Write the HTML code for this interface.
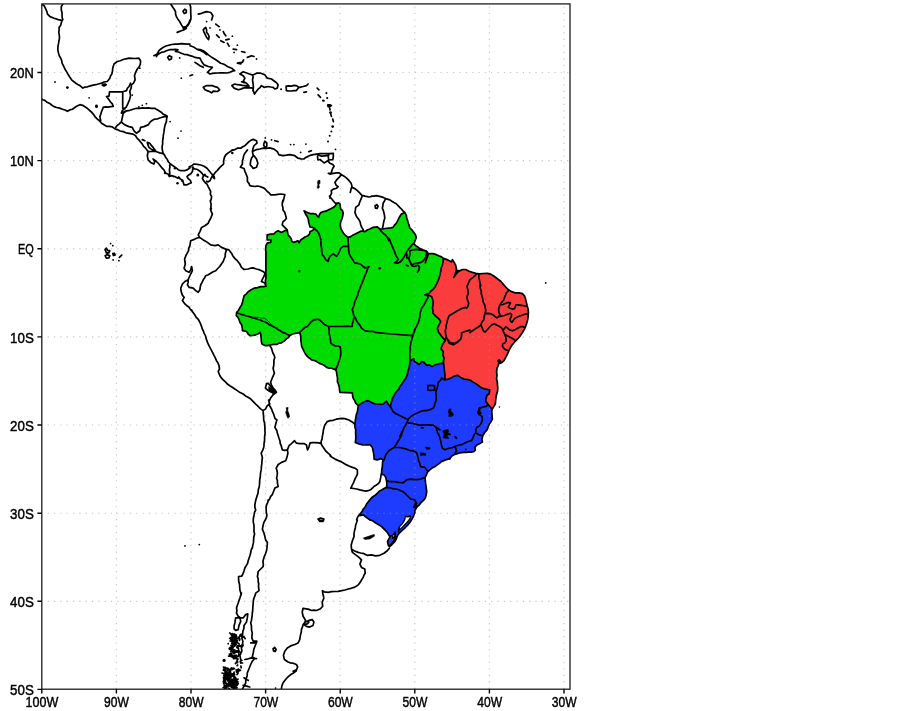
<!DOCTYPE html>
<html><head><meta charset="utf-8"><title>Brazil regions map</title>
<style>html,body{margin:0;padding:0;background:#fff}svg{display:block}text{font-family:"Liberation Sans",sans-serif;fill:#000;stroke:#000;stroke-width:0.45px}</style></head><body>
<svg width="902" height="711" viewBox="0 0 902 711">
<rect width="902" height="711" fill="#fff"/>
<defs><clipPath id="c"><rect x="41.8" y="3.9" width="528.2" height="685.3"/></clipPath></defs>
<g clip-path="url(#c)">
<path d="M265.6,285.6 265.9,278.2 265.9,266.5 265.9,254.9 265.6,249.9 265.9,245.7 267.2,243.2 270.6,242.4 271.1,239.9 267.2,239.9 267.2,234.9 273.9,233.8 278.1,230.8 281.4,232.4 284.7,230.8 287.2,229.9 287.2,229.9 288.0,234.9 291.4,239.1 291.7,241.2 293.7,242.4 295.8,241.6 297.9,240.7 299.1,242.8 300.4,240.3 302.5,238.7 305.0,237.0 307.9,235.7 309.5,234.1 310.0,231.6 312.0,230.8 314.5,229.1 314.9,228.3 312.0,227.4 310.0,227.0 309.5,224.9 308.7,222.4 308.3,219.1 307.0,216.2 305.4,213.7 304.1,210.8 306.2,212.0 308.3,212.9 310.8,213.7 313.7,213.7 315.8,214.1 317.4,216.2 318.7,217.0 319.5,214.5 320.8,212.5 323.3,211.6 325.8,211.2 328.2,210.0 330.7,208.7 333.2,207.5 335.3,205.8 336.6,203.7 338.6,202.9 338.6,202.9 339.9,203.7 340.3,206.6 340.7,209.1 342.4,210.4 343.2,212.9 342.8,215.8 342.0,218.7 340.7,221.6 340.3,224.9 340.7,227.8 342.0,230.8 343.6,233.2 345.7,235.7 348.2,237.4 350.7,236.6 353.2,234.9 355.7,233.7 358.2,232.4 360.7,231.2 363.2,231.2 365.0,231.6 369.8,229.0 373.1,227.3 377.3,226.8 379.8,229.0 382.3,229.0 388.1,228.2 393.1,227.3 396.4,223.2 398.9,218.2 401.4,214.0 404.8,212.4 404.8,212.4 406.4,215.7 407.7,220.7 407.9,222.0 409.1,225.3 409.9,228.2 412.0,229.9 413.7,232.4 415.4,234.5 416.2,237.4 415.4,239.9 414.5,242.0 414.1,244.0 415.8,245.7 417.8,246.9 419.9,248.6 422.8,249.8 425.7,250.7 427.4,251.9 428.2,254.0 429.9,253.6 432.8,253.6 435.7,254.4 438.6,255.7 441.5,256.9 444.0,258.6 443.2,258.3 442.4,264.9 440.7,271.6 439.0,278.2 436.5,284.1 433.2,289.1 429.1,293.2 424.9,294.9 428.6,295.2 431.5,296.5 433.2,302.4 432.4,308.2 432.9,313.2 435.7,316.2 439.0,319.0 440.7,321.5 439.0,324.8 437.4,328.1 438.5,332.3 441.5,336.4 444.5,339.8 445.3,340.4 443.2,343.3 441.6,346.6 441.1,349.1 443.2,351.6 442.8,354.9 444.1,358.3 443.6,363.3 443.6,363.3 441.6,363.3 439.1,363.7 436.6,364.5 434.1,365.3 432.0,366.6 429.5,364.9 427.0,365.3 425.4,364.1 423.7,362.0 421.6,361.6 420.4,363.3 419.1,364.5 416.6,362.8 414.1,361.2 413.7,358.7 411.6,359.9 410.0,361.2 410.0,361.2 409.6,364.9 408.7,369.1 407.5,374.1 405.8,378.2 403.3,381.6 401.2,384.9 397.3,390.7 394.0,395.7 391.5,401.5 390.6,407.3 390.6,407.3 388.1,404.0 386.5,401.2 383.1,404.0 378.2,404.0 373.2,403.2 368.2,400.7 363.2,402.3 358.2,405.7 358.2,405.7 355.7,403.2 353.2,398.2 352.4,392.9 339.9,392.4 339.1,386.5 337.4,381.6 336.9,374.9 335.8,369.9 331.6,368.2 326.6,367.4 321.6,364.1 316.6,361.6 311.6,359.9 307.5,356.6 304.2,351.6 301.7,346.6 300.8,340.0 300.0,333.3 299.0,332.8 296.5,333.1 292.4,334.0 289.9,335.6 286.5,338.9 281.5,342.8 276.6,344.4 269.9,345.1 264.9,345.6 261.9,343.9 261.2,338.1 260.3,332.3 255.8,334.8 249.9,335.6 246.6,331.5 242.5,330.6 241.6,324.8 239.1,319.8 236.3,315.7 236.6,312.3 239.6,308.2 241.6,304.9 243.0,299.9 244.1,295.7 248.3,291.6 254.1,288.2 260.8,286.6 266.2,286.2Z" fill="#00dc00"/>
<path d="M444.0,258.6 446.5,259.4 449.4,260.7 451.5,261.9 452.5,259.6 453.7,261.6 455.4,264.6 456.2,267.5 456.6,270.4 460.0,270.8 462.4,269.5 465.8,269.5 469.1,271.2 472.4,272.4 475.8,273.3 479.1,273.9 483.2,273.5 487.4,273.3 490.7,274.1 494.1,276.2 497.4,278.7 500.7,281.2 503.2,284.1 505.7,287.0 508.2,289.5 511.5,291.6 515.0,292.8 519.1,292.9 522.4,293.7 524.5,295.8 525.6,299.1 526.4,302.4 527.2,305.8 528.1,309.1 528.4,312.4 528.2,315.8 527.8,319.1 527.0,322.4 525.7,326.1 524.5,329.1 522.8,332.0 522.0,333.3 519.9,336.2 517.8,338.7 515.7,340.8 513.6,343.3 511.6,345.8 509.9,348.7 508.7,351.2 507.4,354.1 505.8,357.4 504.1,360.3 502.0,362.4 500.4,363.2 498.7,363.6 498.3,365.7 497.0,368.2 496.6,371.6 497.0,374.9 496.6,379.0 497.3,381.6 497.8,388.2 496.4,394.9 496.5,395.0 495.7,400.0 495.3,404.1 493.2,407.5 492.0,409.3 492.0,409.3 489.9,406.6 487.8,404.1 485.7,401.2 486.1,398.3 487.0,395.0 489.0,394.1 489.8,389.9 485.6,389.1 480.6,387.4 476.5,384.1 472.3,381.6 468.2,379.6 464.0,379.1 460.7,377.4 457.4,375.3 453.2,376.6 448.2,379.1 444.9,379.9 444.9,376.6 444.5,371.6 444.1,367.4 443.6,363.3 443.6,363.3 444.1,358.3 442.8,354.9 443.2,351.6 441.1,349.1 441.6,346.6 443.2,343.3 445.3,340.4 444.5,339.8 441.5,336.4 438.5,332.3 437.4,328.1 439.0,324.8 440.7,321.5 439.0,319.0 435.7,316.2 432.9,313.2 432.4,308.2 433.2,302.4 431.5,296.5 428.6,295.2 424.9,294.9 429.1,293.2 433.2,289.1 436.5,284.1 439.0,278.2 440.7,271.6 442.4,264.9 443.2,258.3Z" fill="#fa3c3c"/>
<path d="M492.0,409.3 492.0,414.1 492.4,419.1 491.1,421.6 489.5,423.7 488.2,427.0 487.0,429.9 484.5,432.8 482.8,435.7 482.0,439.1 482.4,442.0 479.9,443.6 476.6,445.3 474.9,447.4 475.3,449.9 474.1,451.5 469.1,452.0 464.1,452.4 460.0,452.8 456.6,454.0 451.6,456.4 449.7,458.6 445.6,459.9 441.4,461.6 437.3,464.9 433.1,467.4 429.8,469.9 427.3,472.4 425.1,477.4 425.6,483.2 426.4,489.0 426.1,494.9 424.0,499.9 420.6,503.2 417.3,506.5 414.8,510.6 414.9,512.5 413.7,515.8 412.0,519.1 409.9,522.5 407.4,525.4 404.5,528.3 401.6,530.8 399.1,533.3 397.4,535.8 396.2,539.1 394.5,542.0 392.0,544.5 389.6,546.6 389.6,546.6 388.3,545.3 387.5,541.6 388.7,539.1 391.2,535.8 389.6,536.2 388.3,534.1 386.6,531.6 384.1,529.1 381.6,526.6 378.3,524.5 375.0,522.5 367.4,518.1 363.3,514.8 358.6,515.6 358.6,515.6 360.8,513.1 363.3,509.0 366.6,504.0 369.9,499.9 373.2,496.5 377.4,493.2 381.6,489.9 386.5,487.4 386.5,487.4 386.9,484.1 386.5,480.7 385.7,477.4 384.1,474.9 381.2,474.1 381.2,474.1 381.6,472.4 382.4,465.8 383.2,459.9 383.2,459.9 380.7,458.6 377.4,459.9 374.1,459.1 373.6,453.3 372.4,447.5 369.9,444.6 365.8,445.0 359.9,444.1 355.3,442.5 355.8,436.6 355.7,429.8 354.9,424.0 355.7,418.1 357.4,411.5 358.2,405.7 358.2,405.7 363.2,402.3 368.2,400.7 373.2,403.2 378.2,404.0 383.1,404.0 386.5,401.2 388.1,404.0 390.6,407.3 390.6,407.3 391.5,401.5 394.0,395.7 397.3,390.7 401.2,384.9 403.3,381.6 405.8,378.2 407.5,374.1 408.7,369.1 409.6,364.9 410.0,361.2 410.0,361.2 411.6,359.9 413.7,358.7 414.1,361.2 416.6,362.8 419.1,364.5 420.4,363.3 421.6,361.6 423.7,362.0 425.4,364.1 427.0,365.3 429.5,364.9 432.0,366.6 434.1,365.3 436.6,364.5 439.1,363.7 441.6,363.3 443.6,363.3 443.6,363.3 444.1,367.4 444.5,371.6 444.9,376.6 444.9,379.9 448.2,379.1 453.2,376.6 457.4,375.3 460.7,377.4 464.0,379.1 468.2,379.6 472.3,381.6 476.5,384.1 480.6,387.4 485.6,389.1 489.8,389.9 489.0,394.1 487.0,395.0 486.1,398.3 485.7,401.2 487.8,404.1 489.9,406.6 492.0,409.3Z" fill="#1e3cff"/>
<path d="M405.4,515.8 407.0,516.9 409.1,516.5 410.3,515.6 410.3,517.9 408.7,520.4 407.0,522.5 404.9,524.5 402.9,526.6 400.8,528.7 399.3,529.8 398.9,528.3 399.9,526.2 402.0,524.1 403.7,521.6 404.9,519.1Z" fill="#fff" stroke="#000" stroke-width="1.3" stroke-linejoin="round"/>
<path d="M392.9,534.9 394.5,533.3 395.0,535.8 393.7,537.8 392.5,538.4Z" fill="#fff" stroke="#000" stroke-width="1.3" stroke-linejoin="round"/>
<path d="M47.65,72.5H570.0M47.65,160.6H570.0M47.65,248.8H570.0M47.65,336.9H570.0M47.65,425.0H570.0M47.65,513.2H570.0M47.65,601.3H570.0" fill="none" stroke="#a0a0a0" stroke-opacity="0.6" stroke-width="1.15" stroke-dasharray="1.2 5.135"/>
<path d="M116.4,6.4V689.2M191.0,6.4V689.2M265.6,6.4V689.2M340.2,6.4V689.2M414.8,6.4V689.2M489.4,6.4V689.2M564.0,6.4V689.2" fill="none" stroke="#a0a0a0" stroke-opacity="0.6" stroke-width="1.15" stroke-dasharray="1.2 5.29"/>
<path d="M265.6,285.6 265.6,283.1 265.4,280.6 265.9,278.2 265.9,266.5 265.9,254.9 266.0,252.4 265.6,249.9 265.9,245.7 267.2,243.2 270.6,242.4 271.1,239.9 267.2,239.9 267.1,237.4 267.2,234.9 270.5,234.2 273.9,233.8 275.8,232.0 278.1,230.8 281.4,232.4 284.7,230.8 287.2,229.9M287.2,229.9 287.6,232.4 288.0,234.9 289.9,236.8 291.4,239.1 291.7,241.2 293.7,242.4 295.8,241.6 297.9,240.7 299.1,242.8 300.4,240.3 302.5,238.7 305.0,237.0 307.9,235.7 309.5,234.1 310.0,231.6 312.0,230.8 314.5,229.1 314.9,228.3 312.0,227.4 310.0,227.0 309.5,224.9 308.7,222.4 308.3,219.1 307.0,216.2 305.4,213.7 304.1,210.8 306.2,212.0 308.3,212.9 310.8,213.7 313.7,213.7 315.8,214.1 317.4,216.2 318.7,217.0 319.5,214.5 320.8,212.5 323.3,211.6 325.8,211.2 328.2,210.0 330.7,208.7 333.2,207.5 335.3,205.8 336.6,203.7 338.6,202.9M338.6,202.9 339.9,203.7 340.3,206.6 340.7,209.1 342.4,210.4 343.2,212.9 342.8,215.8 342.0,218.7 340.7,221.6 340.3,224.9 340.7,227.8 342.0,230.8 343.6,233.2 345.7,235.7 348.2,237.4 350.7,236.6 353.2,234.9 355.7,233.7 358.2,232.4 360.7,231.2 363.2,231.2 365.0,231.6 367.2,230.0 369.8,229.0 373.1,227.3 377.3,226.8 379.8,229.0 382.3,229.0 385.2,228.5 388.1,228.2 390.6,227.8 393.1,227.3 394.5,225.1 396.4,223.2 397.7,220.7 398.9,218.2 400.1,216.0 401.4,214.0 404.8,212.4M404.8,212.4 406.4,215.7 406.7,218.3 407.7,220.7 407.9,222.0 409.1,225.3 409.9,228.2 412.0,229.9 413.7,232.4 415.4,234.5 416.2,237.4 415.4,239.9 414.5,242.0 414.1,244.0 415.8,245.7 417.8,246.9 419.9,248.6 422.8,249.8 425.7,250.7 427.4,251.9 428.2,254.0 429.9,253.6 432.8,253.6 435.7,254.4 438.6,255.7 441.5,256.9 444.0,258.6M443.2,258.3 443.1,261.7 442.4,264.9 441.1,268.2 440.7,271.6 439.9,274.9 439.0,278.2 437.8,281.2 436.5,284.1 435.1,286.7 433.2,289.1 431.0,291.0 429.1,293.2 424.9,294.9 428.6,295.2 431.5,296.5 432.6,299.4 433.2,302.4 432.9,305.3 432.4,308.2 433.0,310.6 432.9,313.2 435.7,316.2 439.0,319.0 440.7,321.5 439.0,324.8 437.4,328.1 438.5,332.3 440.1,334.3 441.5,336.4 444.5,339.8 445.3,340.4 443.2,343.3 441.6,346.6 441.1,349.1 443.2,351.6 442.8,354.9 444.1,358.3 443.4,360.7 443.6,363.3M443.6,363.3 441.6,363.3 439.1,363.7 436.6,364.5 434.1,365.3 432.0,366.6 429.5,364.9 427.0,365.3 425.4,364.1 423.7,362.0 421.6,361.6 420.4,363.3 419.1,364.5 416.6,362.8 414.1,361.2 413.7,358.7 411.6,359.9 410.0,361.2M410.0,361.2 409.6,364.9 408.7,369.1 407.7,371.5 407.5,374.1 405.8,378.2 403.3,381.6 401.2,384.9 399.7,386.7 399.0,389.0 397.3,390.7 395.3,393.0 394.0,395.7 392.4,398.5 391.5,401.5 390.8,404.4 390.6,407.3M390.6,407.3 388.1,404.0 386.5,401.2 383.1,404.0 380.7,404.3 378.2,404.0 375.6,403.9 373.2,403.2 370.6,402.0 368.2,400.7 365.6,401.2 363.2,402.3 360.7,403.9 358.2,405.7M358.2,405.7 355.7,403.2 354.7,400.6 353.2,398.2 352.6,395.6 352.4,392.9 339.9,392.4 339.5,389.4 339.1,386.5 338.4,384.0 337.4,381.6 337.5,378.2 336.9,374.9 336.6,372.3 335.8,369.9 331.6,368.2 329.1,368.1 326.6,367.4 324.3,365.5 321.6,364.1 319.0,363.1 316.6,361.6 314.2,360.5 311.6,359.9 309.6,358.2 307.5,356.6 305.6,354.3 304.2,351.6 303.0,349.1 301.7,346.6 301.3,343.3 300.8,340.0 300.8,336.6 300.0,333.3 299.0,332.8 296.5,333.1 292.4,334.0 289.9,335.6 288.5,337.6 286.5,338.9 284.2,341.1 281.5,342.8 278.9,343.2 276.6,344.4 273.2,344.5 269.9,345.1 267.4,345.7 264.9,345.6 261.9,343.9 261.3,341.1 261.2,338.1 260.8,335.2 260.3,332.3 258.2,333.8 255.8,334.8 252.9,335.4 249.9,335.6 248.0,333.8 246.6,331.5 242.5,330.6 242.2,327.7 241.6,324.8 240.0,322.5 239.1,319.8 238.1,317.5 236.3,315.7 236.6,312.3 238.4,310.5 239.6,308.2 241.6,304.9 242.5,302.4 243.0,299.9 244.1,295.7 246.4,293.8 248.3,291.6 251.1,289.8 254.1,288.2 257.5,287.6 260.8,286.6 263.5,286.6 266.2,286.2M444.0,258.6 446.5,259.4 449.4,260.7 451.5,261.9 452.5,259.6 453.7,261.6 455.4,264.6 456.2,267.5 456.6,270.4 460.0,270.8 462.4,269.5 465.8,269.5 469.1,271.2 472.4,272.4 475.8,273.3 479.1,273.9 483.2,273.5 487.4,273.3 490.7,274.1 494.1,276.2 497.4,278.7 500.7,281.2 503.2,284.1 505.7,287.0 508.2,289.5 511.5,291.6 515.0,292.8 519.1,292.9 522.4,293.7 524.5,295.8 525.6,299.1 526.4,302.4 527.2,305.8 528.1,309.1 528.4,312.4 528.2,315.8 527.8,319.1 527.0,322.4 525.7,326.1 524.5,329.1 522.8,332.0 522.0,333.3 519.9,336.2 517.8,338.7 515.7,340.8 513.6,343.3 511.6,345.8 509.9,348.7 508.7,351.2 507.4,354.1 505.8,357.4 504.1,360.3 502.0,362.4 500.4,363.2 498.7,363.6 498.3,365.7 497.0,368.2 496.6,371.6 497.0,374.9 496.6,379.0 497.3,381.6 497.5,384.9 497.8,388.2 497.5,391.6 496.4,394.9 496.5,395.0 496.0,397.5 495.7,400.0 495.3,404.1 493.2,407.5 492.0,409.3M492.0,409.3 489.9,406.6 487.8,404.1 485.7,401.2 486.1,398.3 487.0,395.0 489.0,394.1 489.8,389.9 485.6,389.1 483.1,388.4 480.6,387.4 478.6,385.7 476.5,384.1 474.4,382.9 472.3,381.6 470.4,380.2 468.2,379.6 464.0,379.1 460.7,377.4 457.4,375.3 453.2,376.6 450.8,378.1 448.2,379.1 444.9,379.9 444.9,376.6 444.9,374.0 444.5,371.6 444.1,367.4 443.6,363.3M492.0,409.3 491.8,411.7 492.0,414.1 492.1,416.6 492.4,419.1 491.1,421.6 489.5,423.7 488.2,427.0 487.0,429.9 484.5,432.8 482.8,435.7 482.0,439.1 482.4,442.0 479.9,443.6 476.6,445.3 474.9,447.4 475.3,449.9 474.1,451.5 471.6,452.1 469.1,452.0 466.6,452.5 464.1,452.4 460.0,452.8 456.6,454.0 453.9,454.8 451.6,456.4 449.7,458.6 445.6,459.9 441.4,461.6 439.5,463.4 437.3,464.9 435.3,466.4 433.1,467.4 429.8,469.9 427.3,472.4 426.4,475.0 425.1,477.4 425.3,480.3 425.6,483.2 426.0,486.1 426.4,489.0 426.7,492.0 426.1,494.9 425.5,497.5 424.0,499.9 422.3,501.5 420.6,503.2 419.2,505.0 417.3,506.5 416.0,508.5 414.8,510.6 414.9,512.5 413.7,515.8 412.0,519.1 409.9,522.5 407.4,525.4 404.5,528.3 401.6,530.8 399.1,533.3 397.4,535.8 396.2,539.1 394.5,542.0 392.0,544.5 389.6,546.6M389.6,546.6 388.3,545.3 387.5,541.6 388.7,539.1 391.2,535.8 389.6,536.2 388.3,534.1 386.6,531.6 384.1,529.1 381.6,526.6 378.3,524.5 375.0,522.5 372.6,520.8 369.8,519.9 367.4,518.1 365.3,516.5 363.3,514.8 360.9,515.3 358.6,515.6M358.6,515.6 360.8,513.1 362.2,511.2 363.3,509.0 365.3,506.7 366.6,504.0 368.2,501.9 369.9,499.9 371.4,498.0 373.2,496.5 375.5,495.1 377.4,493.2 379.2,491.2 381.6,489.9 384.0,488.5 386.5,487.4M386.5,487.4 386.9,484.1 386.5,480.7 385.7,477.4 384.1,474.9 381.2,474.1M381.2,474.1 381.6,472.4 381.9,469.1 382.4,465.8 382.5,462.8 383.2,459.9M383.2,459.9 380.7,458.6 377.4,459.9 374.1,459.1 374.0,456.2 373.6,453.3 373.0,450.4 372.4,447.5 369.9,444.6 365.8,445.0 362.8,444.8 359.9,444.1 357.6,443.4 355.3,442.5 355.7,439.6 355.8,436.6 355.6,433.2 355.7,429.8 354.9,426.9 354.9,424.0 355.3,421.0 355.7,418.1 356.3,414.7 357.4,411.5 357.9,408.6 358.2,405.7M41.7,4.2 44.2,5.8 45.8,9.2 46.9,11.6 47.5,14.1 50.0,16.6 54.1,18.3 58.3,19.6 61.6,20.3M63.0,3.7 61.3,6.7 61.3,10.0 62.0,12.4 62.1,15.0 62.1,17.3 62.8,19.6 61.6,21.6 60.8,24.9 59.1,27.4 59.1,29.9 58.8,32.4 59.3,35.3 59.5,38.2 59.0,40.7 58.6,43.2 58.0,46.1 57.8,49.1 58.1,51.6 58.8,54.0 59.5,56.2 60.8,58.2 61.7,60.6 62.1,63.2 63.6,66.1 64.9,69.0 66.7,71.9 68.3,74.8 69.9,77.3 71.6,79.8 73.6,81.5 75.8,83.2 77.8,84.5 79.9,85.6 82.9,88.1 85.0,87.1 87.4,86.8 90.3,85.9 93.2,85.1 95.8,84.7 98.2,84.0 101.9,83.2 104.0,82.0 107.3,81.5 109.8,78.2 110.5,75.9 111.8,74.0 112.5,71.1 112.7,68.2 114.0,64.0 117.3,61.5 120.3,60.7 123.2,59.5 126.0,58.8 129.0,58.2 131.9,58.3 134.8,58.5 138.9,58.2 140.6,60.7 140.3,64.0 139.4,66.5 137.3,69.0 135.6,72.3 134.5,75.7 135.1,79.8 133.5,83.2 131.5,84.8 131.1,88.1 129.8,91.5 130.6,95.6 129.5,99.8 127.8,103.9 126.1,107.3 124.0,108.9 122.3,110.6 121.5,113.1M103.2,107.3 105.7,106.8 108.2,107.1 110.7,106.6 113.2,106.4 112.3,103.9 110.5,102.0 109.0,99.8 106.5,96.5 109.0,96.1 109.5,91.8 122.7,91.8 122.7,108.1 124.8,108.9M122.7,91.8 126.5,90.6 127.4,88.3 129.0,86.5 130.6,83.2M102.4,85.1 104.9,84.0 106.2,84.8 104.0,86.1 102.4,85.1M170.5,3.7 173.0,7.5 174.4,9.5 175.5,11.6 175.6,14.2 176.4,16.6 177.9,19.2 179.7,21.6 181.3,24.6 183.0,27.4 186.3,26.6 188.8,23.3 190.0,20.0M177.2,32.4 181.3,30.8 184.0,29.9 186.3,28.3M189.7,3.7 190.6,6.8 190.7,10.0 190.7,13.3 191.0,16.6 190.8,19.2 190.0,21.6 188.3,24.9 186.0,27.4 183.3,28.3M183.0,11.3 184.7,9.2 186.3,10.3 186.3,12.5 184.3,13.6 183.0,11.3M153.9,55.7 157.2,54.0 158.9,50.7 160.9,49.0 163.1,47.4 165.9,46.0 168.9,45.2 171.8,44.5 174.7,44.1 178.1,44.2 181.3,43.6 184.2,43.9 187.1,44.2 190.0,44.1M156.4,56.5 157.8,54.6 159.7,53.2 161.9,52.2 164.3,51.8 166.4,50.7 169.6,49.7 173.0,49.6 175.6,49.4 178.0,49.9 175.5,51.5 178.5,52.0 181.3,53.2 184.2,54.3 187.2,54.6 190.0,55.7M167.7,57.4 169.4,55.7 171.7,56.9 171.4,59.0 169.1,59.9 167.7,57.4M198.3,14.1 201.6,13.3 204.1,12.4 206.6,11.6 210.8,12.5 212.9,15.8 211.6,20.0M204.6,28.3 205.8,27.4 206.6,29.9 206.6,32.4 208.2,34.3 209.1,36.6 208.6,39.6 206.6,37.4 205.4,34.9 204.1,32.4 203.3,29.9 204.6,28.3M215.8,24.1 219.1,26.6M223.3,31.6 224.3,33.8 225.8,35.8M216.6,34.9 219.1,37.4M220.8,40.7 224.1,42.4M225.8,39.9 229.1,39.1M227.4,43.2 229.1,46.2M233.2,49.1 236.6,49.6M241.6,51.5 244.9,52.4M247.4,57.4 251.5,55.7 254.0,56.5M237.4,63.2 239.9,62.6 242.4,62.4 243.6,59.9 242.3,62.0 240.7,64.0 237.4,63.2M190.0,45.7 192.4,46.5 194.6,47.6 196.7,49.1 200.1,49.6 203.3,50.7 206.0,52.6 208.3,54.9 210.8,56.6 213.3,58.2 215.8,59.8 218.3,61.5 220.6,63.2 223.3,64.0 225.4,65.1 227.4,66.5 231.6,68.2 234.6,70.7 232.1,71.2 229.9,72.3 226.6,73.0 223.3,72.8 220.5,72.9 217.7,73.0 214.9,73.2 212.4,73.4 210.0,74.0 207.5,72.3 209.1,70.6 210.8,69.0 212.4,67.3 208.3,66.5 204.1,64.9 201.6,61.5 200.0,58.2 197.5,57.8 195.0,57.4 192.6,56.3 190.0,55.7M197.5,49.6 200.5,50.4 203.3,51.9 206.6,54.5M195.0,62.4 197.5,64.0 200.0,65.7 203.3,67.3M190.0,75.7 192.5,74.8M203.3,87.3 206.6,85.6 209.5,85.7 212.4,85.6 214.9,86.7 217.4,87.3 219.6,89.8 217.4,91.5 213.3,91.1 211.6,92.8 208.3,91.1 205.0,89.8 203.3,87.3M239.9,74.0 243.2,71.8 247.4,73.2 251.5,74.8 254.0,74.5 256.5,73.2 260.7,73.2 264.8,74.8 267.3,78.2 271.5,79.0 274.8,81.5 276.7,82.9 278.1,84.8 277.3,88.1 274.8,89.0 273.1,87.3 270.6,87.0 268.2,86.5 264.0,87.3 261.5,85.6 260.1,87.6 258.2,89.0 255.7,92.3 254.5,94.0 253.2,90.6 252.9,88.1 250.5,87.8 248.2,87.8 245.7,87.6 243.2,88.1 240.8,89.1 238.2,89.8 234.1,88.1 231.9,85.6 234.9,84.0 237.3,84.7 239.9,84.8 242.4,85.4 244.9,85.6 249.0,86.1 246.5,83.2 243.2,81.5 244.9,78.2 243.2,75.7 239.9,74.0M252.9,74.8 253.1,77.4 252.5,79.8 252.9,82.3 253.2,84.8 253.4,87.7 252.9,90.6M241.6,81.8 244.1,82.7M286.1,86.1 288.7,85.8 291.3,86.2 293.8,85.4 296.4,85.6 298.9,87.3 296.4,90.6 293.9,90.6 291.4,91.0 288.9,91.0 286.4,90.6 286.1,86.1M299.8,87.3 303.1,86.5 306.4,85.6 308.1,84.0M303.9,92.3 306.4,91.8M317.2,88.1 318.9,89.8M318.1,94.8 320.5,97.3M328.0,104.8 331.4,105.6M329.7,108.1 330.0,109.8M330.5,113.1 331.4,116.4M40.8,98.0 42.5,99.7 44.9,100.4 46.6,102.0 49.3,103.2 51.6,105.0 54.0,106.6 56.6,107.5 59.6,108.1 62.5,109.2 65.0,110.0 67.4,111.3 69.8,109.9 72.4,109.2 74.5,107.7 76.6,106.3 79.9,104.7 82.6,105.3 84.9,106.7 87.1,108.1 89.1,110.0 91.3,111.9 93.2,114.1 95.1,116.8 97.4,119.1 99.7,121.0 101.5,123.3 104.0,124.8 106.5,126.3 109.5,126.4 112.3,126.9 114.6,128.7 117.3,129.6 120.1,131.0 123.2,131.6 126.0,132.8 129.0,133.3 133.1,134.1 135.6,135.8 137.0,138.1 138.9,139.9 140.6,142.0 142.3,144.1 143.6,146.4 145.6,148.2 148.1,151.6 147.3,155.7 148.1,159.9 150.6,162.4 153.9,164.0 154.8,161.5 153.1,159.0 156.4,161.5 158.9,164.0 161.4,167.3 163.9,169.8 165.6,173.2 168.1,174.0 169.4,176.5 171.4,175.7 174.7,176.5 178.0,178.2M178.0,178.2 178.7,177.0 180.4,179.1 182.0,179.9 183.3,182.4 184.1,184.9 186.6,184.9 189.1,183.7 191.2,182.8 190.3,180.3 188.3,178.7 187.0,176.6 188.7,174.9 190.8,173.7 192.4,171.6 192.8,169.1 194.5,168.7 197.4,169.5 199.9,171.2 202.0,173.3 203.2,174.9 203.2,176.6 202.4,178.3 203.7,180.8 205.3,182.8 207.0,184.1 208.2,186.6 209.5,189.1 210.7,191.6 210.3,194.1 211.6,196.6 211.1,199.9 210.3,200.7 211.1,204.1 210.9,207.4 211.4,209.0M203.2,174.9 205.3,175.8 207.8,177.0M212.8,174.9 211.1,178.3 209.9,180.8 207.8,182.0 206.6,181.2M100.7,120.8 99.9,116.6 100.8,114.2 101.5,111.6 103.2,107.5M115.7,127.4 117.1,125.6 119.0,124.1 121.5,121.6 122.3,117.5 123.2,113.3 126.5,110.8M121.5,122.1 124.8,124.9 129.0,126.6 132.3,127.4 134.0,130.8 135.6,132.4M121.5,112.5 124.0,111.8 126.5,110.8 129.9,110.3 133.1,109.2 136.4,108.3 139.8,108.3 142.5,107.9 145.3,108.2 148.1,107.8 151.4,108.3 154.8,108.3 156.8,109.6 158.9,110.8 161.2,112.2 163.1,114.1 165.2,115.0 167.2,116.3M136.4,133.3 139.8,130.8 140.6,127.4 143.9,126.6 148.1,124.9 150.6,121.6 152.5,120.2 154.8,119.1 157.3,119.0 159.7,118.0 162.2,117.2 164.7,116.7 167.2,116.3M167.2,116.3 166.6,118.9 166.4,121.6 165.4,124.1 164.7,126.6 164.2,129.5 163.9,132.4 163.3,135.3 163.1,138.2 162.6,141.1 162.7,144.1 162.1,146.5 162.2,149.1 163.1,153.2 164.6,155.1 165.6,157.4 167.2,159.2 168.1,161.5 170.5,164.0 173.0,165.7 176.4,168.2 178.2,169.7 180.5,170.7 184.7,170.7 187.5,169.6 190.0,167.8M148.9,151.6 151.8,151.3 154.8,151.2 157.3,152.0 159.7,152.9 163.1,153.6M147.3,142.4 149.8,143.2 151.3,145.4 153.1,147.4 155.6,150.7 152.2,149.9 148.9,147.4 148.0,144.9 147.3,142.4M142.3,139.6 144.8,140.7M169.7,164.9 169.9,167.4 169.4,169.8 169.8,173.2 169.7,176.5M189.1,167.0 192.0,165.4 194.1,164.0 197.4,164.3 200.7,165.0 204.1,166.2 207.0,168.3 209.1,170.8 211.1,173.3 212.8,174.9 214.1,176.6 214.5,178.7 213.2,177.4 213.1,175.4 214.9,172.9 217.4,170.4 219.4,167.9 221.5,165.8 223.6,164.1 223.6,160.8 224.4,157.5 225.7,155.0 228.2,152.9 230.7,151.2 232.3,150.0M232.2,150.1 234.1,149.9 237.4,148.2 240.7,148.2 242.7,146.8 244.9,145.7 247.0,143.7 249.0,141.6 251.0,140.2 253.2,139.4 256.5,140.7 257.0,143.2 254.0,145.7 253.0,148.6 252.4,151.6 253.2,155.7M253.2,155.7 251.6,158.0 250.7,160.7 250.2,164.9 251.8,166.6 253.2,168.5 256.5,167.3 257.9,163.2 256.5,159.0 254.0,155.7M252.4,151.6 254.5,150.6 256.5,149.6 259.9,149.0 263.2,148.2 266.5,148.3 269.8,147.9 274.0,149.1 277.3,151.6 279.0,154.9 283.1,155.7 286.5,155.2 289.8,154.6 292.3,155.1 294.8,155.7 298.1,158.2 301.0,158.8 303.9,159.0 305.8,157.4 308.1,156.5M264.0,143.2 264.8,141.2 266.8,142.9 266.8,146.2 264.8,147.4 263.7,145.2 264.0,143.2M247.4,149.9 244.9,153.2 243.7,155.6 243.2,158.2 242.4,161.1 242.4,164.0 240.4,167.3 244.1,168.5 244.7,170.9 245.7,173.2 247.4,177.3 247.4,181.5 248.9,183.4 249.9,185.6 252.3,186.2 254.9,186.5 257.4,186.0 259.9,186.5 264.0,188.1 265.7,189.7 267.3,191.5 269.2,192.9 270.6,194.8 274.8,194.8 277.7,194.4 280.6,194.0 284.8,194.5 284.0,198.1 283.3,200.7 282.3,203.1M274.8,140.7 278.1,141.6M308.9,151.6 311.4,150.7M332.7,119.1 333.4,121.6M307.5,156.6 310.0,155.4 313.3,154.6 316.6,154.1 320.0,153.7 324.1,153.7 328.7,153.6 333.3,153.3 333.3,156.6 332.8,159.7 328.7,160.0 328.3,156.8 328.7,153.6M317.5,156.2 317.9,160.0 320.0,159.5 322.0,161.2 324.1,162.9 326.6,161.6 328.7,160.0M318.3,155.0 321.6,156.2 324.9,155.8 328.7,155.4M328.3,161.4 329.9,163.3 332.8,164.5 334.1,166.2 332.8,168.3 332.0,170.3 331.2,173.3 328.3,173.3 329.9,174.1 333.3,173.3 336.6,172.8 339.1,172.8 341.2,174.5 344.1,176.2 346.6,178.2 349.1,180.7 351.1,183.2 352.0,186.2 351.1,189.1 350.3,192.4M352.0,187.4 354.9,188.6 357.4,190.7 359.9,193.2 361.9,195.3 364.9,196.1 369.0,197.0 371.5,196.5M371.5,196.2 374.0,196.2 376.5,195.7 380.6,196.6 383.2,197.4 385.6,198.6 389.8,199.9 391.8,201.2 393.9,202.4 396.3,203.7 398.1,205.7 399.7,207.4 401.4,209.0 402.9,210.9 404.8,212.4M341.2,174.9 339.1,177.4 336.6,179.9 334.9,182.4 336.2,185.3 338.2,186.6 336.6,188.2 333.3,189.1 331.2,190.7 331.6,193.2 330.4,195.7 329.9,198.2M329.5,196.2 331.2,198.3 333.2,200.8 335.3,203.3 338.6,202.9M362.3,195.7 360.7,199.9 359.6,202.3 359.0,204.9 355.7,207.4 355.4,209.9 354.9,212.4 356.5,216.5 359.0,219.8 360.2,222.2 360.7,224.8 361.8,227.4 363.2,229.8 364.0,231.5M385.6,198.6 384.5,201.0 383.1,203.2 382.9,205.7 382.3,208.2 383.4,210.6 384.0,213.2 384.5,215.7 384.8,218.2 384.0,220.6 383.5,223.2 383.0,226.1 382.3,229.0M375.1,205.7 376.8,204.6 378.1,206.2 377.1,208.5 375.5,208.2 375.1,205.7M210.4,208.7 211.2,211.4 212.4,214.1 210.7,218.3 209.3,220.7 208.2,223.3 204.9,225.8 201.6,227.4 199.9,231.6 198.2,234.9 199.6,237.4 197.1,238.0 194.9,239.1 190.7,240.7 190.3,243.2 189.9,245.7 188.8,248.1 188.6,250.7 187.4,252.8 186.2,254.9 184.6,259.0 184.9,261.5 185.3,264.0 184.1,268.2 185.8,270.7 189.1,272.3 190.7,269.9 191.6,266.5 192.4,270.7 190.7,274.0 189.1,277.3 188.2,279.8 184.9,281.5 182.4,284.0 180.8,288.1 181.0,290.7 181.6,293.1 182.5,295.4 184.1,297.3 182.4,300.6 184.9,303.9 186.9,305.7 189.1,307.3 190.5,309.6 192.4,311.4M188.2,279.8 188.1,282.4 187.4,284.8 189.1,287.3 193.2,288.1 195.7,290.6 198.2,292.3 199.9,289.8 200.2,287.3 200.7,284.8 202.1,282.4 203.2,279.8 204.6,277.9 205.7,275.7 208.3,274.7 210.7,273.2 213.1,271.7 215.7,270.7 217.7,268.5 219.8,266.5 221.4,264.0 223.2,261.5 224.1,259.0 225.2,256.5 225.3,253.6 226.2,250.7 225.7,249.1M199.6,237.4 203.2,239.9 205.3,241.1 207.4,242.4 210.7,244.9 214.9,245.7 218.2,244.9 221.5,247.4 225.7,249.1M225.7,249.1 229.0,249.9 231.5,253.2 232.6,255.4 234.0,257.4 235.5,259.2 237.3,260.7 239.8,264.0 241.5,267.4 244.0,269.5 248.1,269.0 250.6,268.2 253.1,267.9 256.4,269.0 259.8,269.9 263.1,271.5 265.1,273.2 263.9,276.5 262.6,278.9 261.4,281.5 264.8,283.1 265.6,285.6M283.0,200.0 282.4,202.5 282.2,205.0 282.9,207.4 283.0,210.0 284.7,212.3 285.5,215.0 286.4,218.3 284.9,220.2 283.0,221.6 282.2,224.9 284.7,227.4 287.2,229.9M191.6,310.0 193.1,312.6 194.9,315.0 196.0,317.1 197.8,318.8 199.1,320.8 200.5,323.7 201.6,326.6 202.3,328.9 203.4,331.0 204.1,333.3 205.3,335.4 205.9,337.6 206.6,339.9 207.7,342.9 209.1,345.8 210.3,348.2 211.6,350.7 212.9,353.2 214.1,355.7 215.4,358.2 216.5,360.7 218.1,363.1 219.0,365.7 219.5,369.0 218.2,371.5 219.9,375.7 221.3,377.9 223.2,379.9 225.4,381.8 227.3,384.0 229.8,385.8 232.3,387.3 234.8,389.0 237.3,390.6 240.1,392.6 243.2,394.0 245.5,395.9 248.1,397.3 250.4,398.7 252.3,400.6 254.0,402.3 255.6,404.0 258.1,406.4 260.6,408.9 263.1,410.6M263.1,410.6 265.6,408.9 267.3,405.6 269.8,404.0M269.8,345.8 271.4,348.0 272.2,350.7 272.9,353.0 274.1,355.1 274.8,357.4 273.9,360.2 273.9,363.2 273.7,365.8 273.1,368.2 273.7,370.7 274.4,373.2 273.3,375.7 272.2,378.2 270.6,382.3 271.4,384.8 272.8,387.5 274.8,389.8 276.4,392.3 273.1,394.8 270.6,398.1 268.9,401.5 269.8,404.0M265.4,387.9 266.6,383.7 268.3,383.3 269.9,385.4 272.0,387.9 274.5,390.0 276.2,392.0 274.1,394.1 272.0,392.4 269.5,391.2 267.0,389.5 265.4,387.9M263.2,410.8 263.3,413.7 263.6,416.6 263.7,420.0 264.6,423.3 264.9,426.6 264.9,429.9 265.1,433.3 264.6,436.6 264.6,439.9 264.1,443.2 263.9,446.6 262.9,449.9 261.2,453.2 262.4,457.4 262.0,460.3 261.9,463.2 261.4,466.5 261.2,469.9 260.5,473.1 260.3,476.5 259.7,479.8 259.6,483.1 259.3,486.5 258.3,489.8 258.0,493.2 256.9,496.4 256.0,499.3 255.3,502.3 254.8,505.1M268.6,400.0 269.3,402.5 269.1,405.0 270.4,407.0 271.6,409.1 272.5,411.7 273.6,414.1 274.9,418.3 276.9,420.0 275.7,424.1 274.9,427.4 276.9,430.8 277.4,433.3 278.2,435.8 279.0,438.3 279.9,440.7 280.2,443.3 281.2,445.7 282.4,449.9M282.4,449.9 284.9,450.3 287.4,449.9 287.9,453.2 286.9,457.4 285.7,460.7 281.5,462.4 278.2,464.5 276.2,468.2 277.0,470.6 277.4,473.2 277.1,475.7 276.6,478.2 277.4,480.6 277.4,483.1 278.2,486.5 274.9,488.1 273.2,492.3 272.3,494.6 270.7,496.4 269.7,498.6 268.6,500.6M287.4,449.9 289.0,445.7 291.5,443.6 294.5,440.7 296.5,443.2 299.8,443.6 304.0,443.6 306.5,444.9 306.9,447.4 307.6,449.9 309.0,446.6 310.1,442.9 312.5,442.6 314.8,442.7 319.0,442.9 321.1,443.6M321.1,443.6 321.2,441.2 322.1,438.9 322.3,436.6 323.0,433.3 323.4,429.9 324.1,427.4 324.8,424.9 327.3,421.6 330.1,420.6 333.1,420.3 336.4,419.2 339.8,418.6 342.2,418.4 344.7,418.6 348.9,420.0 352.2,421.9 354.7,424.1M321.1,443.6 322.3,446.1 323.9,448.2 325.7,451.0 328.1,453.2 330.1,454.8 331.4,456.9M254.9,505.0 254.9,507.5 255.7,510.0 254.5,512.4 254.1,515.0 253.4,518.3 253.2,521.6 253.9,524.9 254.1,528.3 253.9,531.2 254.6,534.1 253.8,537.0 253.6,539.9 253.5,542.4 252.9,544.9 252.4,547.5 251.2,549.9 250.7,552.8 249.9,555.7 249.0,558.2 248.2,560.7 247.6,563.4 246.2,565.7 244.8,568.0 244.1,570.7 242.9,574.0 241.6,576.2 238.6,576.5 238.6,579.8 238.9,582.3 239.6,584.8 239.7,587.3 239.9,589.8 240.6,592.3 241.2,594.8M268.2,500.0 267.7,502.6 266.5,505.0 266.1,507.5 266.2,510.0 266.3,512.5 266.9,515.0 266.4,517.6 265.2,520.0 263.9,522.3 263.2,524.9 262.4,529.1 264.0,533.3 264.7,535.7 265.2,538.2 265.9,540.5 267.4,542.4 267.2,545.3 266.9,548.2 266.5,550.8 265.7,553.2 264.0,557.4 262.9,561.5 263.3,564.0 263.2,566.5 260.7,569.0 258.2,571.5 257.9,574.0 257.4,576.5 258.2,578.9 258.2,581.5 258.7,584.0 258.5,586.5 259.0,590.6 255.7,593.1M318.1,519.1 320.6,518.0 323.9,519.1 323.1,521.3 319.7,521.3 318.1,519.1M241.5,593.0 240.7,595.5 239.9,598.0 239.0,600.5 238.2,603.0 237.3,605.5 236.5,608.0 236.9,610.5 236.5,613.0 238.2,616.3 240.7,617.9 243.2,617.9 245.7,614.6 247.8,613.8 247.3,617.9 246.5,622.1 244.0,625.4 243.9,628.4 242.9,631.2 242.7,633.8 241.9,636.2 242.0,638.8 242.9,641.2 242.5,643.8 241.5,646.2 241.5,648.7 241.9,651.2 240.8,653.3 239.9,655.4 240.7,659.5M235.7,617.9 235.2,620.4 234.9,622.9 234.1,625.8 234.1,628.8 235.7,630.4 238.2,629.6 239.0,625.4 240.7,621.3 239.9,617.9 235.7,617.9M255.7,593.0 255.0,595.6 254.0,598.0 253.4,600.5 253.2,603.0 253.0,605.5 252.8,608.0 252.7,610.5 252.3,613.0 252.2,615.5 251.8,617.9 251.5,620.5 250.7,622.9 251.4,625.4 251.5,627.9 251.6,630.5 252.3,632.9 252.0,635.4 251.8,637.9 253.2,641.2 256.8,641.2 255.7,644.5 254.0,648.7 253.2,652.9 252.3,657.0 254.8,658.2 252.3,661.2 250.7,664.5 249.0,668.7 247.3,672.8 247.2,675.4 246.5,677.8 245.8,680.3 245.7,682.8 244.0,686.1 242.4,689.1M250.7,642.9 253.6,642.6 256.5,642.9M244.9,659.5 248.2,658.8 251.5,657.9 254.0,658.4 256.5,658.7M244.0,677.8 246.0,679.3 248.2,680.3M243.2,685.3 246.5,686.1 249.8,687.0M323.9,598.0 322.2,602.1 322.7,606.3 320.5,608.8 316.4,610.5 313.9,610.1 311.4,610.5 308.9,609.4 306.4,608.8 303.1,608.3 302.2,612.1 303.1,616.3 304.3,618.3 305.6,620.4 304.6,622.7 303.1,624.6 302.4,627.2 301.4,629.6 301.3,632.1 300.6,634.6 300.1,637.1 299.7,639.6 298.1,642.9 294.8,644.5 290.6,645.9 287.3,647.9 284.8,651.2 283.4,655.4 284.4,659.5 288.1,662.0 290.5,662.9 293.1,663.2 296.4,664.5 297.7,667.0 296.4,669.8 293.1,671.2 296.4,670.8 293.1,673.2 290.9,674.5 288.9,676.1 287.2,677.7 285.6,679.5 283.1,682.8 281.8,686.1 281.4,689.1M305.6,622.1 308.9,620.4 312.2,619.6 313.9,622.1 313.0,625.4 309.7,627.1 306.4,626.3 303.9,624.6 307.2,623.8 308.9,622.1M273.1,648.7 274.8,647.5 276.1,649.5 275.1,651.5 273.5,650.9 273.1,648.7M234.1,636.6 234.4,635.4 234.7,634.6M236.0,639.4 235.2,639.5 234.3,639.5M231.6,640.3 230.7,639.2 229.8,638.4M235.0,645.6 234.3,644.8 233.5,644.3M236.8,647.2 237.0,646.9 237.2,646.7M240.0,635.2 240.7,634.6 241.4,634.2M232.5,636.1 232.1,637.0 231.8,637.6M232.8,642.3 233.1,642.0 233.4,641.7M236.1,635.4 235.3,634.6 234.4,634.0M237.3,640.3 237.0,640.5 236.6,640.7M235.3,638.6 235.9,639.1 236.5,639.5M233.4,642.2 233.5,643.3 233.5,644.0M237.8,638.4 238.7,637.3 239.7,636.6M235.0,644.6 234.3,644.6 233.6,644.6M231.6,643.5 232.1,643.7 232.6,643.8M239.1,638.8 239.5,639.0 239.9,639.2M236.4,640.6 237.1,641.9 237.8,642.7M235.5,643.4 234.6,644.0 233.7,644.4M237.0,647.8 237.7,647.2 238.3,646.8M234.7,643.5 233.7,643.4 232.8,643.3M232.7,636.1 231.8,636.9 231.0,637.4M232.4,637.9 232.2,638.9 231.9,639.6M231.9,640.5 232.0,641.6 232.1,642.3M238.6,646.1 238.1,645.8 237.7,645.7M234.4,646.3 235.4,645.4 236.3,644.7M232.8,637.7 232.3,637.6 231.7,637.6M236.5,638.1 235.5,637.8 234.5,637.7M234.5,642.1 235.4,642.6 236.3,643.0M235.8,642.8 236.2,641.5 236.6,640.7M239.3,645.0 240.1,645.8 240.8,646.3M234.7,639.9 233.9,640.3 233.2,640.5M231.8,635.5 231.2,634.5 230.6,633.9M234.3,635.3 233.3,634.3 232.3,633.6M232.1,639.4 231.2,640.5 230.2,641.1M236.7,636.5 236.2,636.1 235.8,635.8M234.5,636.2 235.2,637.6 235.9,638.5M235.4,641.0 234.6,639.9 233.8,639.2M234.3,638.1 234.9,637.1 235.6,636.5M231.4,647.2 231.5,646.2 231.5,645.6M236.1,634.9 236.2,636.3 236.2,637.2M239.0,643.8 238.5,643.5 238.0,643.2M232.7,644.8 232.8,645.6 232.8,646.1M234.2,637.5 234.8,638.9 235.4,639.8M238.9,645.3 239.5,646.0 240.2,646.4M233.3,641.5 233.0,640.1 232.7,639.3M230.1,647.5 229.7,648.1 229.2,648.4M238.6,650.3 239.5,651.7 240.4,652.6M238.6,649.0 238.1,648.2 237.5,647.7M231.7,646.3 231.9,647.4 232.2,648.1M237.6,650.9 237.9,651.7 238.2,652.3M230.7,653.9 231.5,654.7 232.3,655.2M236.8,650.8 236.1,651.6 235.5,652.2M232.9,656.2 233.9,655.9 234.8,655.7M233.6,658.6 234.0,657.7 234.5,657.1M231.1,645.4 231.9,646.3 232.7,646.8M231.2,656.6 232.2,657.1 233.1,657.4M233.1,652.0 232.4,650.7 231.6,649.8M238.8,653.7 238.8,654.9 238.9,655.7M233.9,657.4 234.5,656.6 235.2,656.0M232.2,647.8 231.7,648.0 231.2,648.2M232.3,649.9 231.5,651.0 230.8,651.8M233.1,650.5 233.3,651.6 233.5,652.4M233.7,658.1 233.7,658.2 233.7,658.3M234.7,643.2 234.6,642.3 234.4,641.7M229.9,656.2 229.3,656.1 228.6,656.1M236.5,652.1 236.2,652.2 235.8,652.2M235.0,655.9 234.2,656.1 233.4,656.2M232.2,647.5 232.7,647.5 233.2,647.5M235.0,655.5 235.8,655.4 236.7,655.3M235.5,651.3 235.5,651.8 235.5,652.2M234.0,651.8 234.0,653.0 233.9,653.8M236.3,657.5 237.2,656.8 238.1,656.4M235.0,658.6 235.7,657.6 236.4,656.9M231.0,650.2 230.2,649.5 229.3,649.0M230.6,654.0 231.1,655.1 231.7,655.9M231.3,654.8 231.6,653.8 231.9,653.1M238.0,659.0 237.4,660.2 236.8,661.1M233.5,651.0 234.5,651.9 235.5,652.5M231.4,650.1 231.4,649.6 231.4,649.3M231.7,648.2 232.1,646.8 232.6,646.0M235.0,650.2 234.0,649.7 233.0,649.4M235.6,651.4 234.7,652.8 233.9,653.7M237.1,659.0 236.3,658.4 235.5,658.0M230.2,655.8 229.8,654.8 229.3,654.1M233.8,658.0 234.4,657.4 235.0,656.9M225.6,687.4 225.8,688.0 225.9,688.3M224.8,669.1 225.2,668.9 225.6,668.7M224.6,687.8 224.8,688.6 225.1,689.2M224.7,686.1 223.9,687.1 223.0,687.8M229.8,675.0 229.9,676.2 230.1,677.0M227.3,670.6 227.3,669.9 227.4,669.4M225.1,671.3 224.2,670.4 223.3,669.9M227.9,674.3 228.4,673.7 228.9,673.4M230.5,671.6 230.2,670.3 229.9,669.4M227.0,668.2 227.5,668.3 228.0,668.4M226.2,677.9 227.1,676.8 227.9,676.1M234.9,677.0 234.9,678.0 234.8,678.6M229.0,678.6 229.4,680.0 229.8,680.9M228.3,685.5 228.7,685.9 229.1,686.2M229.2,675.2 228.3,674.2 227.4,673.5M224.6,683.6 224.1,682.7 223.6,682.0M224.7,685.7 225.5,686.2 226.2,686.5M227.5,673.0 227.1,672.9 226.6,672.8M225.7,677.3 225.3,678.6 224.8,679.5M237.0,679.5 236.5,680.8 236.0,681.6M227.8,675.4 226.8,675.1 225.8,674.9M230.1,678.5 229.5,678.5 228.9,678.6M223.6,673.5 222.8,673.2 222.0,673.0M224.2,668.3 223.8,667.6 223.4,667.1M231.7,679.1 232.2,679.5 232.7,679.8M233.4,686.5 233.2,686.1 233.0,685.7M237.2,671.0 237.6,671.4 238.1,671.7M224.2,685.6 225.0,686.0 225.7,686.2M233.7,685.1 233.0,685.2 232.3,685.2M230.5,685.6 231.1,686.5 231.8,687.1M231.6,686.8 232.0,687.4 232.4,687.7M226.7,668.5 226.0,668.1 225.3,667.9M225.0,685.6 225.1,686.0 225.2,686.2M232.2,682.3 232.2,680.9 232.2,680.0M234.6,683.8 234.6,683.9 234.6,683.9M232.7,669.2 233.1,668.5 233.6,668.1M224.6,673.5 225.1,672.7 225.5,672.1M233.8,688.6 233.8,688.3 233.8,688.1M230.2,682.4 230.7,682.7 231.2,682.9M232.4,669.5 231.7,668.8 231.0,668.3M233.8,674.3 234.0,673.0 234.1,672.0M224.4,673.6 224.8,674.1 225.1,674.5M232.9,674.0 232.9,673.9 233.0,673.9M230.0,670.4 230.8,669.5 231.6,669.0M237.1,687.8 236.1,687.6 235.2,687.6M234.9,688.4 234.8,687.8 234.7,687.4M226.5,688.0 225.9,688.2 225.3,688.3M225.5,679.0 226.4,678.0 227.3,677.3M234.9,678.7 235.7,679.2 236.4,679.6M226.8,686.9 226.7,685.6 226.7,684.7M223.6,678.3 223.5,677.8 223.4,677.4M225.5,675.2 225.2,676.1 224.8,676.7M223.6,683.8 224.3,682.8 224.9,682.0M236.4,683.0 237.2,682.4 238.0,682.0M228.7,676.2 229.7,676.5 230.7,676.6M228.6,677.0 228.1,675.7 227.7,674.8M225.0,685.6 224.6,686.8 224.1,687.6M227.0,673.5 227.0,672.6 227.1,672.0M228.7,688.2 229.5,689.1 230.3,689.6M232.3,687.3 233.2,687.4 234.0,687.5M233.5,668.9 234.0,668.8 234.4,668.7M234.0,681.5 233.5,680.3 233.1,679.5M236.4,670.5 236.3,670.1 236.2,669.8M227.7,683.6 228.6,682.9 229.6,682.5M232.6,674.2 232.7,673.9 232.8,673.8M225.9,671.3 225.3,672.4 224.7,673.2M230.4,672.5 231.2,673.9 232.1,674.8M229.8,670.8 229.2,669.7 228.6,668.9M228.3,669.8 227.8,669.1 227.2,668.6M231.4,686.7 231.9,686.5 232.4,686.3M229.3,679.0 229.0,678.5 228.8,678.2M224.4,673.7 225.4,672.7 226.3,672.0M230.5,681.2 231.2,680.4 232.0,679.9M227.3,673.1 227.1,673.0 226.9,672.9M236.7,685.9 237.5,684.6 238.2,683.7M224.0,682.9 224.8,682.9 225.6,682.8M231.7,667.8 231.5,669.0 231.2,669.8M235.0,686.0 235.9,685.3 236.8,684.9M225.1,671.1 225.1,671.6 225.2,672.0M236.6,683.2 236.9,683.9 237.2,684.4M229.9,679.6 229.0,680.4 228.0,680.9M226.8,687.4 227.1,686.9 227.4,686.5M225.3,673.2 225.6,673.8 225.9,674.1M225.1,669.3 225.2,669.6 225.2,669.7M228.9,672.6 229.1,671.2 229.3,670.3M227.7,677.6 228.7,678.0 229.6,678.3M235.8,678.0 235.2,677.2 234.7,676.8M236.8,682.8 236.4,681.5 236.1,680.6M230.4,682.2 230.3,681.5 230.1,681.1M232.8,687.5 232.2,686.2 231.7,685.4M228.2,676.8 228.6,675.9 229.0,675.4M234.6,683.6 234.6,682.7 234.6,682.2M237.0,674.5 237.6,673.7 238.2,673.2M226.6,684.0 226.2,685.3 225.8,686.1M230.4,671.8 229.9,671.6 229.3,671.4M232.8,688.0 232.1,687.7 231.3,687.5M226.5,688.6 225.8,687.3 225.1,686.5M224.4,676.2 225.2,677.3 226.0,678.0M233.7,689.1 234.5,688.6 235.4,688.3M226.1,687.8 226.6,686.5 227.1,685.6M232.7,675.9 232.5,675.4 232.2,675.1M225.9,667.9 225.5,667.5 225.0,667.2M236.8,670.5 237.7,669.6 238.6,669.1M228.5,685.3 229.1,685.1 229.8,685.0M224.2,677.9 224.0,679.1 223.7,679.9M226.2,675.6 227.0,674.3 227.8,673.4M229.2,685.1 229.8,683.8 230.3,683.0M224.1,669.2 224.9,668.5 225.7,668.0M233.9,687.0 233.6,686.3 233.2,685.9M236.8,681.0 236.3,681.6 235.8,682.0M227.9,673.7 226.9,674.4 226.0,674.9M236.2,681.3 237.1,680.0 238.0,679.1M226.8,678.0 227.7,679.2 228.6,680.1M228.9,673.2 228.8,673.2 228.6,673.1M236.4,671.7 237.0,672.4 237.6,672.8M234.9,684.3 235.1,683.8 235.3,683.5M228.0,675.5 228.5,674.4 229.1,673.6M226.3,683.9 225.8,682.6 225.3,681.8M224.0,679.6 223.7,680.9 223.3,681.8M235.8,688.9 235.3,687.7 234.8,686.9M225.9,679.5 226.3,679.3 226.7,679.2M227.2,678.4 227.5,678.9 227.7,679.2M232.4,684.1 232.7,683.0 233.0,682.3M233.3,676.7 233.4,676.4 233.6,676.1M232.3,675.5 231.8,674.8 231.3,674.3M226.4,684.6 226.6,684.1 226.7,683.8M228.8,686.0 228.9,685.3 228.9,684.8M233.0,681.5 233.9,680.4 234.9,679.7M229.6,683.7 230.3,684.9 231.0,685.6M225.3,676.7 224.5,675.9 223.8,675.3M234.6,680.6 235.5,680.2 236.3,680.0M233.5,678.8 233.1,679.6 232.6,680.1M234.3,674.2 234.5,674.6 234.7,674.8M227.1,677.7 226.4,676.9 225.6,676.4M227.4,680.8 227.8,680.0 228.1,679.4M225.0,677.2 225.4,676.3 225.7,675.7M228.0,675.5 228.6,675.7 229.2,675.8M225.5,674.2 225.3,674.3 225.1,674.4M231.3,674.0 230.6,674.6 229.9,675.0M229.0,676.6 228.6,677.9 228.2,678.7M228.0,680.4 227.7,680.1 227.4,680.0M233.5,686.1 233.2,685.2 233.0,684.7M232.2,675.5 231.2,676.6 230.2,677.4M229.1,683.7 228.9,684.8 228.8,685.5M229.5,675.0 228.5,675.1 227.6,675.2M231.3,684.9 230.5,685.3 229.7,685.5M228.6,679.5 227.9,678.9 227.2,678.5M230.1,685.1 229.3,685.1 228.5,685.1M232.9,685.7 232.3,684.6 231.7,684.0M234.3,685.8 234.3,684.5 234.2,683.7M234.1,678.0 234.9,678.3 235.8,678.5M233.1,675.0 233.7,674.2 234.3,673.7M228.9,684.1 229.6,683.2 230.2,682.6M227.1,678.1 227.1,677.8 227.2,677.6M226.1,676.1 226.6,677.2 227.0,678.0M225.3,680.3 225.8,679.0 226.3,678.1M233.3,674.4 233.5,674.5 233.7,674.6M231.2,676.9 231.0,677.1 230.8,677.3M229.2,681.6 229.0,681.4 228.9,681.3M225.1,681.1 225.1,680.3 225.1,679.8M242.8,645.0 242.8,644.1 242.7,643.5M241.4,636.0 240.7,635.8 239.9,635.7M239.5,640.5 239.5,639.2 239.5,638.3M242.2,635.7 242.7,636.4 243.1,637.0M241.6,635.3 241.6,635.0 241.6,634.7M243.8,636.4 244.5,637.8 245.2,638.7M242.7,645.4 242.1,646.8 241.5,647.7M241.5,647.3 242.3,646.4 243.2,645.7M240.5,670.4 239.6,669.9 238.7,669.7M240.3,661.4 241.1,660.7 241.9,660.3M240.6,661.2 240.6,662.4 240.6,663.1M237.6,662.6 237.6,662.1 237.6,661.7M236.7,661.6 236.1,662.9 235.4,663.7M239.9,669.9 239.3,670.7 238.6,671.3M237.1,665.7 237.4,665.3 237.7,665.0M240.9,666.0 241.1,667.0 241.2,667.8M237.1,671.1 237.3,670.8 237.6,670.6M240.5,662.6 241.5,662.8 242.5,663.0M357.4,520.0 356.6,522.5 355.7,525.0 355.3,527.9 354.5,530.8 354.0,533.7 354.0,536.6 352.4,540.8 351.2,544.9 351.5,549.1 354.0,550.8 358.2,552.4 360.6,553.0 363.2,553.3 365.2,554.4 367.3,555.3 371.5,554.9 375.6,555.8 379.8,555.3 381.9,554.3 384.0,553.3 387.3,550.8 389.3,548.3M351.5,549.1 352.4,552.4 355.7,554.9 359.0,557.4 361.5,559.9 359.9,564.1 361.5,567.4 364.8,569.1 365.2,573.2 363.9,575.2 363.2,577.4 361.9,579.4 360.7,581.5 358.2,584.9 356.2,586.3 354.0,587.4 351.1,588.3 348.2,589.0 344.9,590.0 341.6,590.7 338.2,591.3 334.9,591.5 331.5,591.6 328.2,592.3 324.1,591.8 322.4,590.7 322.9,594.0 323.6,596.8M319.1,520.0 323.3,520.8M330.0,455.8 332.4,457.6 335.0,459.1 337.9,460.4 340.8,461.6 343.7,463.2 346.6,464.9 349.5,466.2 352.4,467.4 355.1,468.3 357.4,469.9 357.4,474.1 356.2,476.6 354.9,479.1 353.3,483.2 352.0,485.7 350.8,488.2 353.7,488.5 356.6,489.0 359.9,489.9 363.3,490.7 365.8,491.1 368.2,490.7 370.5,489.8 372.4,488.2 374.2,486.2 376.6,484.9 378.5,483.5 379.9,481.6 380.7,477.4 381.2,474.1M358.6,515.6 357.4,517.6 356.6,519.8M105.1,249.6 106.4,248.2 107.8,250.7 109.8,250.7 108.9,252.9 106.4,252.9 105.1,249.6M105.1,255.7 107.3,254.6 109.8,255.7 108.9,257.9 106.4,258.2 105.1,255.7M112.8,253.6 114.4,253.2 115.1,254.9 113.4,255.5 112.8,253.6M119.4,257.4 121.7,255.2M314.9,229.1 317.0,230.8 318.7,233.2 319.9,236.6 320.9,239.9M320.8,241.5 320.9,244.8 321.6,248.1 321.7,251.5 322.4,254.8 324.3,257.1 325.8,259.8 328.2,261.4 328.8,258.8 329.9,256.4 333.2,253.9 336.6,256.4 337.9,254.4 339.1,252.3 340.7,248.1 343.2,246.4 347.4,246.4 348.4,246.4M379.8,229.0 381.2,231.3 383.1,233.2 385.5,235.0 387.3,237.3 388.9,240.6M347.9,237.1 348.1,241.7 348.5,246.2 348.7,250.8 349.5,254.5 351.2,257.4 352.9,259.9 354.5,262.9 357.4,263.3 360.4,264.1 362.8,266.2 364.9,267.8 367.4,267.4 369.1,266.6 367.8,268.3 366.6,271.6 364.9,275.7 363.3,279.9 361.6,284.1 359.9,288.2 358.3,292.4M358.2,292.4 357.7,295.4 356.4,298.2 355.2,300.6 354.4,303.1 353.9,305.7 352.2,309.9 353.1,312.0 353.4,314.4 354.4,316.5 355.8,318.6 356.6,321.1 358.0,323.1 360.1,325.4 361.4,328.1 364.7,330.6 367.2,331.1 369.7,331.5 372.4,331.4 375.0,331.8M299.0,332.8 301.2,331.0 303.2,329.0 305.0,327.4 307.3,326.5 309.1,324.5 310.6,322.3 314.0,319.8 316.4,319.3 319.0,319.5 322.3,322.3 324.8,324.8 328.9,326.5 341.4,326.5 344.1,326.4 346.8,326.1 349.5,326.4 352.2,326.5 352.3,323.9 353.1,321.5 353.6,319.0 354.4,316.5M236.6,312.8 238.9,313.5 241.0,314.3 243.3,314.8 245.5,315.6 247.7,316.2 249.9,316.8 252.6,318.0 255.5,318.5 258.3,319.5 260.6,320.0 262.6,321.2 264.9,321.8 267.2,323.0 269.1,324.7 271.6,325.6 273.8,326.9 276.2,328.0 278.2,329.8 280.5,330.8 282.5,332.4 284.9,333.1 287.4,334.4 289.9,335.6M328.6,326.3 329.1,330.0 329.2,333.4 329.9,336.6 330.5,340.0 330.8,343.3 332.8,344.6 334.9,345.8 337.5,345.8 339.9,346.6 340.6,349.1 340.7,351.6 340.7,355.0 339.9,358.3 339.2,360.8 338.2,363.3 337.6,365.5 336.5,367.7 335.8,369.9M375.0,332.3 391.6,334.0 412.9,335.6M426.6,294.9 428.2,297.4 426.4,300.2 424.9,303.2 423.4,305.8 421.6,308.2 420.9,310.7 419.9,313.2 419.9,316.5 419.1,319.8 418.6,322.2 417.5,324.3 416.6,326.5 415.0,328.8 414.1,331.5 412.9,335.6 412.2,338.1M415.0,330.0 413.7,333.3 412.0,337.5 411.7,340.0 410.8,342.5 410.5,345.0 410.0,347.5 410.3,350.0 409.8,352.4 409.8,354.9 410.0,357.4 410.0,361.2M387.2,237.3 389.2,238.6 390.8,242.8 392.5,246.9 393.6,249.4 394.6,251.9 396.2,256.1 398.3,259.4 396.6,261.5 394.6,262.7 397.5,263.2 400.4,261.9 402.5,259.4 404.5,256.1 406.2,252.8 407.9,249.8 410.4,246.9 412.4,244.4 414.1,242.8M409.9,250.7 413.3,249.8 416.6,249.4 419.9,249.8 423.2,250.3 426.2,251.1 426.6,253.6 425.7,256.9 424.1,259.8 422.0,261.9 419.9,262.7 417.4,263.2 414.5,263.6 412.4,264.8 410.8,263.6 409.5,261.1 409.1,257.8 409.9,254.4 409.9,250.7M406.2,252.8 407.0,255.3 406.6,257.8 408.7,258.6 409.9,261.1 411.2,264.4 412.4,266.1 414.9,266.5 417.8,265.2 419.5,266.9 418.7,270.2 417.4,272.3M428.2,254.0 427.4,256.9 426.2,260.2 425.3,262.7M406.2,265.2 408.3,265.9M456.2,270.4 455.4,273.3 454.1,276.6 453.7,277.4 455.4,274.9 457.5,272.4 460.0,270.8M476.6,273.7 474.9,275.8 472.4,277.9 469.9,279.9 468.3,283.3 467.0,286.6 467.9,289.9 468.3,293.2 467.0,296.6 467.4,299.9 468.7,303.2 467.9,306.5 466.6,308.2M465.8,307.4 461.6,308.5 459.6,309.8 457.5,310.7 455.4,312.0 453.3,313.2 451.3,314.6 449.1,315.7 447.5,319.9 447.0,322.4 446.3,324.8 446.1,327.8 445.3,330.6 445.6,333.6 446.3,336.5 445.0,339.8M478.7,274.1 478.9,277.4 479.7,281.6 480.7,285.8M480.0,285.0 480.2,288.0 481.2,290.8 481.3,293.8 482.1,296.6 482.8,299.5 483.3,302.4 484.8,305.2 485.4,308.3 485.8,310.8 485.0,313.7M446.3,336.5 447.0,338.8 448.2,340.9 449.1,343.1 453.3,344.8 455.4,343.6 457.5,342.3 459.2,340.7 460.8,339.0 461.5,336.1 461.6,333.1 464.9,331.5 467.4,330.8 469.9,330.2M470.0,332.5 472.5,330.8 475.0,329.1 478.3,327.1 480.8,325.0M481.0,324.9 481.7,322.4 483.7,319.9 484.2,316.6 485.0,313.7M485.0,313.7 487.9,313.3 490.8,313.7 493.3,314.9 495.4,317.0 497.0,317.8 498.7,316.6M508.7,290.4 506.6,292.5 504.9,296.6 503.7,300.0 501.2,302.9 500.0,304.9 499.1,307.4 498.5,310.4 499.1,312.8 500.0,314.9 498.7,316.6M500.0,304.9 502.9,304.5 505.8,303.3 508.7,302.4 510.4,302.9 509.5,304.9 508.3,307.0 509.9,308.3 512.8,309.1 514.5,308.7 515.3,306.6 515.8,304.9 518.2,304.9 521.6,305.4 524.9,305.8 527.0,305.9M498.7,316.6 501.6,316.2 504.9,315.3 507.9,314.1 510.4,313.3 511.6,314.5 511.2,317.0 509.9,319.1 510.8,321.6 512.0,322.4 513.3,320.3 514.9,318.2 517.4,317.0 520.7,315.8 524.1,314.5 526.6,313.7 528.2,314.1M480.8,325.0 482.1,327.5 483.3,330.8 485.0,332.1 487.0,330.0 489.1,327.5 491.6,325.0 494.1,323.7 496.6,325.0 499.1,326.2 501.6,327.9 502.8,330.0 504.1,329.1 505.8,326.6 507.4,327.9 509.9,330.0 512.4,330.8 515.3,329.6 518.2,327.9 520.7,326.6 523.2,326.6 524.5,327.5M502.8,330.0 503.7,332.5 504.9,334.6 507.4,335.8 510.7,337.5 514.1,339.5 515.7,340.8M504.9,334.6 505.8,337.5 506.2,340.8 504.9,342.9 502.8,343.7 502.4,345.8 503.7,348.3 505.8,349.9 508.7,350.8M497.9,360.9 499.1,359.9 500.4,361.2 499.9,362.8M444.9,379.9 441.6,378.2 440.3,380.7 438.2,382.4M438.2,383.2 437.4,387.4 436.6,389.9 435.8,392.4 436.3,395.3 436.2,398.2 436.0,400.8 434.9,403.2 434.4,405.8 433.3,408.2 429.1,409.9 426.7,410.6 424.1,410.7 421.5,411.1 419.1,412.3 415.0,414.0 412.9,415.2 410.8,416.5 408.3,419.0M427.9,385.7 431.3,385.3 434.6,385.7 434.6,390.2 431.3,390.4 427.9,390.2 427.9,385.7M390.6,407.3 391.9,409.4 393.1,411.5 395.5,413.4 398.1,414.8 400.6,416.0 403.1,417.3 405.6,418.6 408.1,419.8M408.3,419.5 406.6,423.1 405.6,425.3 404.2,427.3 403.1,429.9 401.7,432.3 400.0,436.4M408.3,423.1 411.7,423.2 415.0,424.0 418.3,424.8 421.6,425.1 424.9,425.0 428.3,424.8 430.8,425.2 433.3,425.1 436.2,427.3 436.8,429.8 437.4,432.3 439.0,435.1 439.9,438.1 440.8,441.0 441.2,443.9 442.4,448.1 444.9,449.8 447.3,448.8 449.9,448.1 452.5,447.5 454.9,446.4 457.3,445.5 459.9,444.8 462.5,444.3 464.9,443.1 468.2,441.4M468.2,441.5 471.6,440.7 472.8,438.2 474.1,434.9 475.8,432.8M487.8,404.1 486.6,406.2 483.2,407.1 479.9,407.9 479.1,410.0 477.8,412.9 479.9,414.5 482.0,416.6 482.4,419.9 481.2,423.3 479.5,425.8 476.6,427.4 475.8,429.9 475.8,432.8 479.1,434.9 482.4,435.7M454.9,446.4 456.5,450.6 454.9,453.9M448.2,340.0 449.9,342.5 452.3,343.2 454.9,343.3 457.4,341.7 459.9,340.0M403.2,430.0 402.2,432.4 401.5,435.0 400.2,437.5 399.0,440.0 397.6,442.0 396.5,444.1 394.0,447.5M394.0,447.5 398.2,447.5 400.7,447.7 403.2,448.3 405.8,448.8 408.2,450.0 410.6,450.7 413.1,450.8 416.5,452.4 417.3,454.9 418.1,457.4 418.6,460.5 419.8,463.3 420.6,466.6 424.8,467.4 427.3,470.7M394.0,447.5 391.4,449.0 389.0,450.8 387.3,452.8 385.7,454.9 384.9,457.5 384.1,459.9M386.5,480.7 389.0,481.3 391.5,481.6 394.9,481.7 398.2,482.4 400.7,482.5 403.2,482.9 406.5,479.9 409.0,479.3 411.5,479.1 414.0,479.6 416.5,479.6 420.6,479.1 424.8,477.4M386.5,487.4 390.7,487.9 393.1,488.8 395.7,489.0 398.3,489.5 400.7,490.7 403.0,491.6 404.8,493.2 406.6,494.8 408.2,496.5 410.6,499.0 414.8,499.9 416.5,503.2 415.1,507.3M398.8,528.3 398.4,530.8 399.1,532.8M395.0,532.0 395.4,536.6 394.5,539.5 392.9,542.0 390.8,544.5 389.3,546.1M414.9,500.0 415.7,502.5 414.9,505.0 413.7,507.1 415.3,507.5" fill="none" stroke="#000" stroke-width="1.7" stroke-linejoin="round" stroke-linecap="round"/>
<path d="M249.9,316.8 258.3,317.5 264.9,318.3 268.6,321.5 271.6,325.1" fill="none" stroke="#000" stroke-width="0.7"/>
<path d="M449.1,409.1 450.7,408.7 451.1,411.2 452.8,413.3 453.6,415.0 452.0,416.2 450.3,416.6 448.6,416.2 449.1,413.7 448.2,412.1Z" fill="#000" stroke="#000" stroke-width="0.6" stroke-linejoin="round"/>
<path d="M442.8,430.8 445.7,429.9 448.2,429.5 448.6,431.6 447.8,432.8 450.3,433.7 450.7,434.9 448.2,434.9 446.6,435.8 448.6,437.4 448.6,438.7 445.7,438.2 443.2,437.8 443.7,435.8 444.1,433.7 442.8,432.0Z" fill="#000" stroke="#000" stroke-width="0.6" stroke-linejoin="round"/>
<path d="M437.0,427.4 438.7,427.9 440.8,429.9 439.9,430.6 437.8,429.1Z" fill="#000" stroke="#000" stroke-width="0.6" stroke-linejoin="round"/>
<path d="M454.5,436.2 456.1,436.6 457.2,438.2 456.1,438.9 454.9,437.8Z" fill="#000" stroke="#000" stroke-width="0.6" stroke-linejoin="round"/>
<path d="M425.4,447.0 427.9,447.2 430.4,448.1 429.1,449.2 427.0,449.5 425.8,448.2Z" fill="#000" stroke="#000" stroke-width="0.6" stroke-linejoin="round"/>
<path d="M420.4,452.8 423.3,453.1 425.8,453.6 425.6,455.7 424.1,455.3 422.9,454.9 421.2,455.9 420.2,454.9Z" fill="#000" stroke="#000" stroke-width="0.6" stroke-linejoin="round"/>
<path d="M420.8,427.0 423.7,427.3 423.5,428.7 421.6,428.7Z" fill="#000" stroke="#000" stroke-width="0.6" stroke-linejoin="round"/>
<path d="M478.6,407.9 480.0,407.3 480.2,412.5 479.0,415.4 478.2,412.5Z" fill="#000" stroke="#000" stroke-width="0.6" stroke-linejoin="round"/>
<path d="M363.3,538.1 369.1,536.1 374.1,534.4 374.6,536.1 369.9,538.9 364.9,539.4Z" fill="#000" stroke="#000" stroke-width="0.6" stroke-linejoin="round"/>
<path d="M286.1,407.8 288.1,407.4 287.8,410.7 289.1,414.1 289.5,417.0 287.8,418.2 286.6,415.3 285.7,412.4 286.6,409.9Z" fill="#000" stroke="#000" stroke-width="0.6" stroke-linejoin="round"/>
<path d="M268.7,386.6 272.0,388.7 276.2,392.0 274.1,394.1 271.6,392.0 268.7,390.4Z" fill="#000" stroke="#000" stroke-width="0.6" stroke-linejoin="round"/>
<path d="M317.9,180.7 320.0,180.3 320.0,183.2 318.7,184.9 319.5,187.0 318.3,188.6 317.0,187.4 317.9,184.9 317.5,182.4Z" fill="#000" stroke="#000" stroke-width="0.6" stroke-linejoin="round"/>
<circle cx="55.0" cy="82.0" r="0.9" fill="#000"/>
<circle cx="89.1" cy="97.8" r="0.9" fill="#000"/>
<circle cx="139.8" cy="68.2" r="0.9" fill="#000"/>
<circle cx="132.3" cy="95.1" r="0.9" fill="#000"/>
<circle cx="181.3" cy="78.2" r="0.9" fill="#000"/>
<circle cx="179.7" cy="57.9" r="0.9" fill="#000"/>
<circle cx="67.4" cy="87.6" r="1.4" fill="#000"/>
<circle cx="96.5" cy="105.9" r="1.4" fill="#000"/>
<circle cx="206.6" cy="21.6" r="0.9" fill="#000"/>
<circle cx="210.0" cy="27.9" r="0.9" fill="#000"/>
<circle cx="219.9" cy="29.9" r="0.9" fill="#000"/>
<circle cx="232.4" cy="36.2" r="0.9" fill="#000"/>
<circle cx="237.4" cy="45.2" r="0.9" fill="#000"/>
<circle cx="234.1" cy="52.4" r="0.9" fill="#000"/>
<circle cx="256.5" cy="59.0" r="0.9" fill="#000"/>
<circle cx="281.1" cy="89.3" r="1.05" fill="#000"/>
<circle cx="326.4" cy="93.1" r="1.05" fill="#000"/>
<circle cx="323.0" cy="100.6" r="1.05" fill="#000"/>
<circle cx="327.2" cy="98.1" r="1.05" fill="#000"/>
<circle cx="329.7" cy="105.6" r="1.7" fill="#000"/>
<circle cx="197.8" cy="174.9" r="1.5" fill="#000"/>
<circle cx="177.5" cy="183.3" r="1.25" fill="#000"/>
<circle cx="182.4" cy="180.8" r="1.25" fill="#000"/>
<circle cx="175.0" cy="168.3" r="1.25" fill="#000"/>
<circle cx="192.8" cy="167.5" r="1.25" fill="#000"/>
<circle cx="165.0" cy="172.9" r="1.25" fill="#000"/>
<circle cx="232.3" cy="152.9" r="1.25" fill="#000"/>
<circle cx="204.9" cy="174.5" r="0.9" fill="#000"/>
<circle cx="173.3" cy="176.6" r="0.9" fill="#000"/>
<circle cx="214.1" cy="177.4" r="0.9" fill="#000"/>
<circle cx="96.5" cy="106.7" r="1.4" fill="#000"/>
<circle cx="138.9" cy="107.0" r="0.9" fill="#000"/>
<circle cx="142.3" cy="105.3" r="0.9" fill="#000"/>
<circle cx="146.4" cy="103.7" r="0.9" fill="#000"/>
<circle cx="170.1" cy="121.6" r="0.9" fill="#000"/>
<circle cx="181.0" cy="131.1" r="0.9" fill="#000"/>
<circle cx="178.0" cy="138.2" r="0.9" fill="#000"/>
<circle cx="265.3" cy="137.9" r="0.9" fill="#000"/>
<circle cx="271.5" cy="139.9" r="0.9" fill="#000"/>
<circle cx="290.6" cy="144.6" r="0.9" fill="#000"/>
<circle cx="293.9" cy="144.6" r="0.9" fill="#000"/>
<circle cx="305.9" cy="144.1" r="0.9" fill="#000"/>
<circle cx="300.6" cy="152.4" r="0.9" fill="#000"/>
<circle cx="335.5" cy="149.4" r="0.9" fill="#000"/>
<circle cx="323.9" cy="100.8" r="1.0" fill="#000"/>
<circle cx="331.4" cy="131.6" r="1.0" fill="#000"/>
<circle cx="329.7" cy="135.8" r="1.0" fill="#000"/>
<circle cx="328.0" cy="141.6" r="1.0" fill="#000"/>
<circle cx="330.5" cy="112.5" r="1.35" fill="#000"/>
<circle cx="332.7" cy="126.6" r="1.35" fill="#000"/>
<circle cx="328.9" cy="105.8" r="1.9" fill="#000"/>
<circle cx="199.3" cy="544.6" r="0.9" fill="#000"/>
<circle cx="185.0" cy="545.9" r="0.9" fill="#000"/>
<circle cx="229.9" cy="632.9" r="0.9" fill="#000"/>
<circle cx="228.2" cy="643.7" r="0.9" fill="#000"/>
<circle cx="275.6" cy="688.1" r="0.9" fill="#000"/>
<circle cx="224.1" cy="660.4" r="1.6" fill="#000"/>
<circle cx="110.6" cy="243.6" r="0.9" fill="#000"/>
<circle cx="112.8" cy="245.7" r="0.9" fill="#000"/>
<circle cx="113.1" cy="259.9" r="0.9" fill="#000"/>
<circle cx="118.9" cy="260.7" r="0.9" fill="#000"/>
<circle cx="299.3" cy="271.3" r="1.2" fill="#000"/>
<circle cx="379.7" cy="268.3" r="1.3" fill="#000"/>
<circle cx="545.7" cy="282.9" r="0.9" fill="#000"/>
<circle cx="480.7" cy="412.9" r="1.0" fill="#000"/>
<circle cx="465.8" cy="449.5" r="1.0" fill="#000"/>
<circle cx="456.6" cy="451.3" r="1.0" fill="#000"/>
<circle cx="499.4" cy="407.0" r="0.8" fill="#000"/>
<circle cx="498.9" cy="361.6" r="1.2" fill="#000"/>
<circle cx="449.7" cy="458.6" r="1.2" fill="#000"/>
</g>
<rect x="41.8" y="3.9" width="528.2" height="685.3" fill="none" stroke="#1c1c1c" stroke-width="1.3"/>
<path d="M37.4,72.5H41.8M37.4,160.6H41.8M37.4,248.8H41.8M37.4,336.9H41.8M37.4,425.0H41.8M37.4,513.2H41.8M37.4,601.3H41.8M37.4,689.4H41.8M41.8,689.2v4.4M116.4,689.2v4.4M191.0,689.2v4.4M265.6,689.2v4.4M340.2,689.2v4.4M414.8,689.2v4.4M489.4,689.2v4.4M564.0,689.2v4.4" fill="none" stroke="#000" stroke-width="1.4"/>
<text x="10.1" y="78.1" font-size="15.4" textLength="23.7" lengthAdjust="spacingAndGlyphs">20N</text>
<text x="10.1" y="166.2" font-size="15.4" textLength="23.7" lengthAdjust="spacingAndGlyphs">10N</text>
<text x="18.0" y="254.4" font-size="15.4" textLength="15.8" lengthAdjust="spacingAndGlyphs">EQ</text>
<text x="10.1" y="342.5" font-size="15.4" textLength="23.7" lengthAdjust="spacingAndGlyphs">10S</text>
<text x="10.1" y="430.6" font-size="15.4" textLength="23.7" lengthAdjust="spacingAndGlyphs">20S</text>
<text x="10.1" y="518.8" font-size="15.4" textLength="23.7" lengthAdjust="spacingAndGlyphs">30S</text>
<text x="10.1" y="606.9" font-size="15.4" textLength="23.7" lengthAdjust="spacingAndGlyphs">40S</text>
<text x="10.1" y="695.0" font-size="15.4" textLength="23.7" lengthAdjust="spacingAndGlyphs">50S</text>
<text x="25.6" y="707.0" font-size="15.4" textLength="32.8" lengthAdjust="spacingAndGlyphs">100W</text>
<text x="104.1" y="707.0" font-size="15.4" textLength="24.9" lengthAdjust="spacingAndGlyphs">90W</text>
<text x="178.8" y="707.0" font-size="15.4" textLength="24.9" lengthAdjust="spacingAndGlyphs">80W</text>
<text x="253.4" y="707.0" font-size="15.4" textLength="24.9" lengthAdjust="spacingAndGlyphs">70W</text>
<text x="327.9" y="707.0" font-size="15.4" textLength="24.9" lengthAdjust="spacingAndGlyphs">60W</text>
<text x="402.6" y="707.0" font-size="15.4" textLength="24.9" lengthAdjust="spacingAndGlyphs">50W</text>
<text x="477.2" y="707.0" font-size="15.4" textLength="24.9" lengthAdjust="spacingAndGlyphs">40W</text>
<text x="551.8" y="707.0" font-size="15.4" textLength="24.9" lengthAdjust="spacingAndGlyphs">30W</text>
</svg></body></html>
